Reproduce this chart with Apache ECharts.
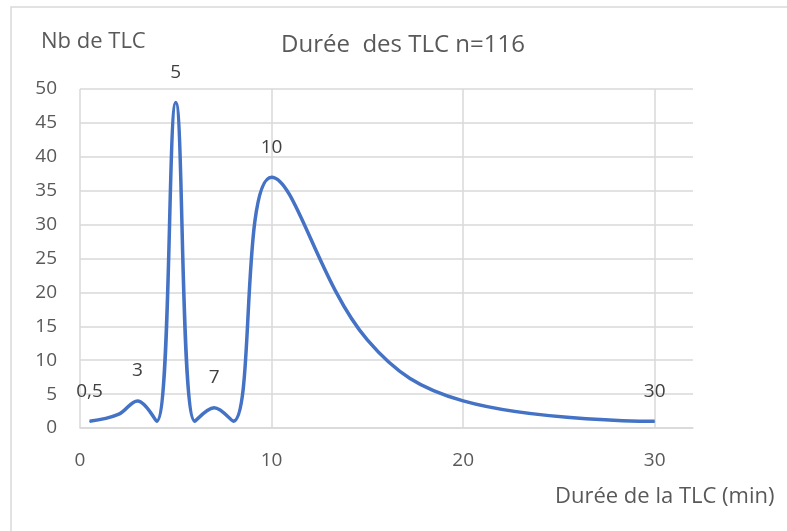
<!DOCTYPE html>
<html>
<head>
<meta charset="utf-8">
<script src="https://cdn.jsdelivr.net/npm/echarts@6/dist/echarts.min.js"></script>
<style>html,body{margin:0;padding:0;background:#fff}#c{width:787px;height:531px}</style>
</head>
<body>
<div id="c"></div>
<script>
var durations = [0.5, 2, 3, 4, 5, 6, 7, 8, 10, 15, 20, 30];
var counts = [1, 2, 4, 1, 48, 1, 3, 1, 37, 13, 4, 1];
var labelledDurations = [0.5, 3, 5, 7, 10, 30];
var xTicks = [0, 10, 20, 30];

var FONT = '"Open Sans", "Noto Sans", sans-serif';
var TXT = '#595959';

var seriesData = durations.map(function (d, i) {
  var show = labelledDurations.indexOf(d) >= 0;
  return { value: [d, counts[i]], label: { show: show } };
});

var chart = echarts.init(document.getElementById('c'));
chart.setOption({
  animation: false,
  backgroundColor: '#fff',
  graphic: [
    { type: 'rect', shape: { x: 11, y: 7, width: 800, height: 600 },
      style: { fill: 'none', stroke: '#d9d9d9', lineWidth: 1.5 } },
    { type: 'text', x: 403, y: 45,
      style: { text: 'Durée  des TLC n=116', font: '24px ' + FONT, fill: TXT,
        align: 'center', verticalAlign: 'middle' } },
    { type: 'text', x: 41, y: 42,
      style: { text: 'Nb de TLC', font: '22px ' + FONT, fill: TXT,
        align: 'left', verticalAlign: 'middle' } },
    { type: 'text', x: 555, y: 497,
      style: { text: 'Durée de la TLC (min)', font: '22px ' + FONT, fill: TXT,
        align: 'left', verticalAlign: 'middle' } }
  ],
  grid: { left: 80, right: 94, top: 89, bottom: 103, containLabel: false },
  xAxis: {
    type: 'value', min: 0, max: 32, interval: 10,
    axisLine: { show: true, lineStyle: { color: '#d9d9d9', width: 1.5 } },
    axisTick: { show: false },
    axisLabel: { margin: 23, fontFamily: FONT, fontSize: 19, color: TXT,
      customValues: xTicks },
    splitLine: { show: true, showMaxLine: false, lineStyle: { color: '#d9d9d9', width: 1.5 } }
  },
  yAxis: {
    type: 'value', min: 0, max: 50, interval: 5,
    axisLine: { show: false },
    axisTick: { show: false },
    axisLabel: { margin: 23, fontFamily: FONT, fontSize: 19, color: TXT },
    splitLine: { show: true, lineStyle: { color: '#d9d9d9', width: 1.5 } }
  },
  series: [{
    type: 'line',
    smooth: 0.4,
    symbol: 'circle',
    symbolSize: 1,
    showSymbol: true,
    itemStyle: { color: '#4472C4' },
    lineStyle: { color: '#4472C4', width: 3.5 },
    label: {
      position: 'top', distance: 20,
      fontFamily: FONT, fontSize: 19, color: '#404040',
      formatter: function (p) { return String(p.value[0]).replace('.', ','); }
    },
    data: seriesData
  }]
});
</script>
</body>
</html>
